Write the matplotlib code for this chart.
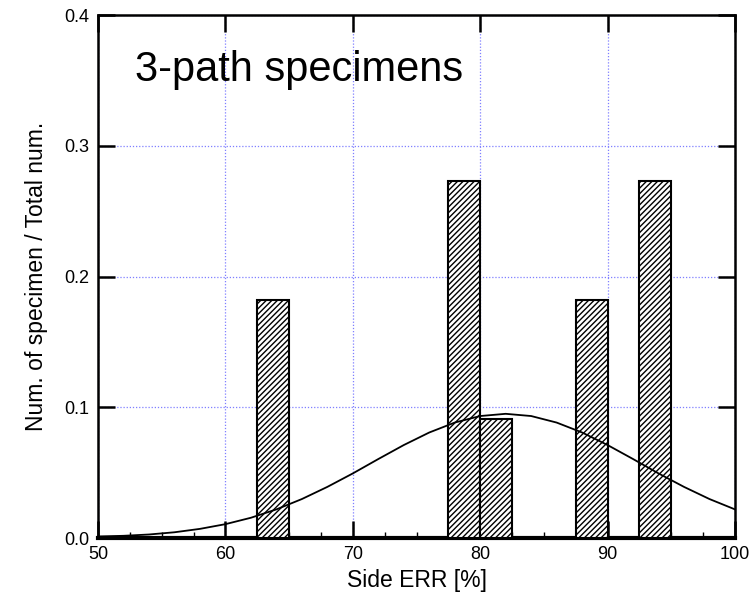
import matplotlib.pyplot as plt
import numpy as np

# histogram bins (left edges), width and relative frequency
bin_left = [62.5, 77.5, 80.0, 87.5, 92.5]
bin_width = 2.5
freq = [0.1818, 0.2727, 0.0909, 0.1818, 0.2727]

# fitted distribution curve
curve_x = [50, 52, 54, 56, 58, 60, 62, 64, 66, 68, 70, 72, 74, 76, 78,
           80, 82, 84, 86, 88, 90, 92, 94, 96, 98, 100]
curve_y = [0.0012, 0.0017, 0.0027, 0.0044, 0.0070, 0.0106, 0.0155, 0.0219,
           0.0298, 0.0391, 0.0494, 0.0604, 0.0711, 0.0807, 0.0883, 0.0933,
           0.0950, 0.0933, 0.0883, 0.0807, 0.0711, 0.0604, 0.0494, 0.0391,
           0.0298, 0.0219]

x_ticks = [50, 60, 70, 80, 90, 100]
y_ticks = [0.0, 0.1, 0.2, 0.3, 0.4]

plt.rcParams["font.family"] = ["Liberation Sans", "DejaVu Sans"]
plt.rcParams["hatch.linewidth"] = 1.0

fig = plt.figure(figsize=(7.51, 6.05), dpi=100)
ax = fig.add_axes([0.1305, 0.1107, 0.8482, 0.8645])

ax.bar(bin_left, freq, width=bin_width, align="edge", facecolor="white",
       edgecolor="black", hatch="//////", linewidth=1.5, zorder=3)
ax.plot(curve_x, curve_y, color="black", lw=1.3, zorder=4)

ax.set_xlim(50, 100)
ax.set_ylim(0, 0.4)
ax.set_xticks(x_ticks)
ax.set_xticks(np.arange(50, 100.1, 2.5), minor=True)
ax.set_yticks(y_ticks)
ax.set_yticklabels([f"{v:.1f}" for v in y_ticks])
ax.grid(True, which="major", color="#7f7fff", ls=(0, (1, 1.5)), lw=0.9, zorder=1)

ax.tick_params(which="major", direction="in", length=12, width=1.8,
               top=True, right=True, labelsize=13, pad=6)
ax.tick_params(which="minor", direction="in", length=4, width=1.0,
               top=False, right=False)
for side in ["left", "top", "right"]:
    ax.spines[side].set_linewidth(1.8)
ax.spines["bottom"].set_linewidth(3)

ax.set_xlabel("Side ERR [%]", fontsize=16.5, labelpad=4)
ax.set_ylabel("Num. of specimen / Total num.", fontsize=16.5, labelpad=12)
ax.text(0.058, 0.895, "3-path specimens", transform=ax.transAxes,
        fontsize=30, va="center", ha="left")

fig.savefig("out.png", dpi=100)
